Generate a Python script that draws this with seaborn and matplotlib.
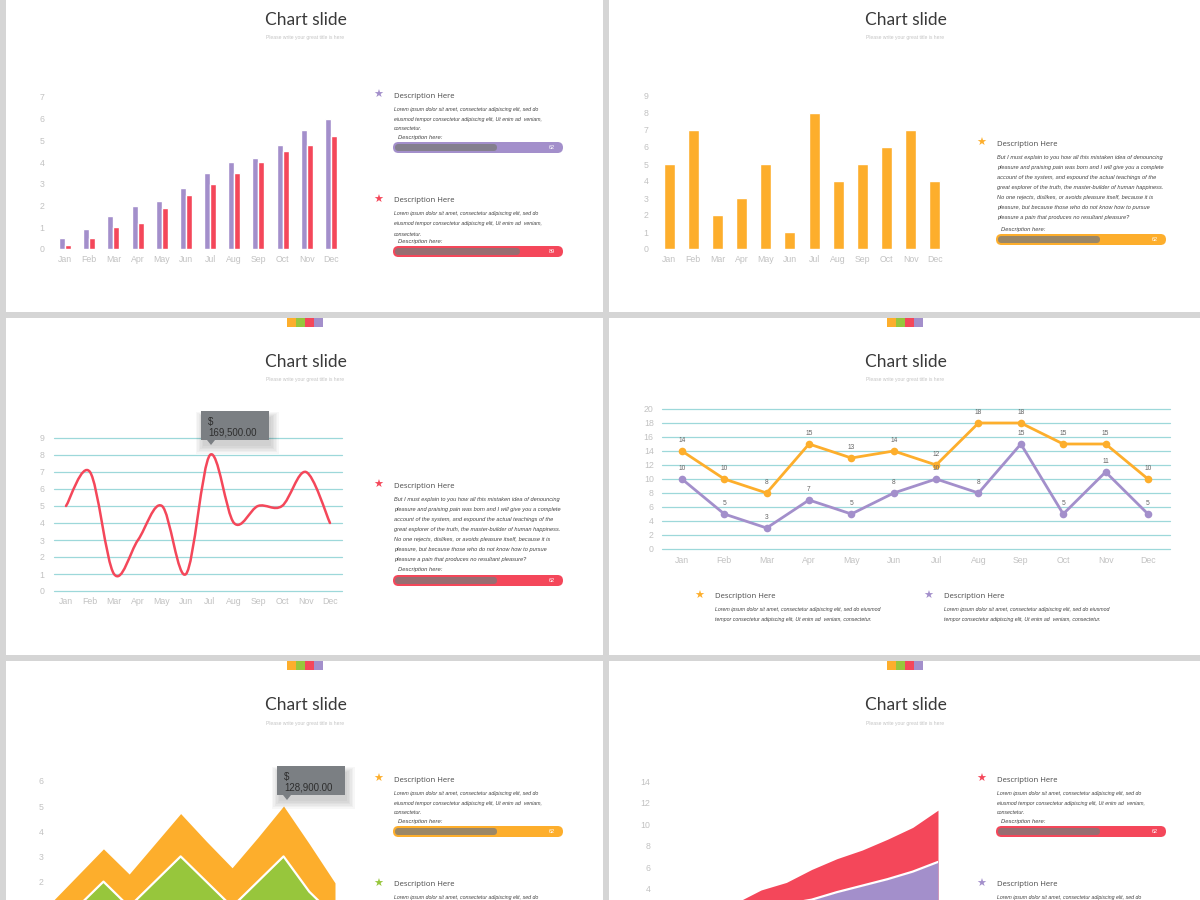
import numpy as np
import pandas as pd
import matplotlib
matplotlib.use("Agg")
import matplotlib.pyplot as plt
from matplotlib.patches import Rectangle, FancyBboxPatch, Polygon, PathPatch
from matplotlib.path import Path
import seaborn as sns

# ---------------- data ----------------
months = ["Jan", "Feb", "Mar", "Apr", "May", "Jun", "Jul", "Aug", "Sep", "Oct", "Nov", "Dec"]

bar_purple = [0.5, 0.9, 1.5, 2.0, 2.2, 2.8, 3.5, 4.0, 4.2, 4.8, 5.5, 6.0]
bar_red = [0.2, 0.5, 1.0, 1.2, 1.9, 2.5, 3.0, 3.5, 4.0, 4.5, 4.8, 5.2]
bar_orange = [5, 7, 2, 3, 5, 1, 8, 4, 5, 6, 7, 4]
curve_red = [5, 7, 1, 3, 5, 1, 8, 4, 5, 5, 7, 4]
line_orange = [14, 10, 8, 15, 13, 14, 12, 18, 18, 15, 15, 10]
line_purple = [10, 5, 3, 7, 5, 8, 10, 8, 15, 5, 11, 5]
area_orange = [1.2, 2.25, 3.3, 2.3, 3.5, 4.7, 3.6, 2.55, 3.75, 5.0, 3.5, 1.95]
area_green = [0.5, 1.0, 2.0, 1.0, 2.0, 3.0, 2.0, 1.0, 2.0, 3.0, 1.6, 0.6]
area_red = [0.8, 1.4, 2.0, 2.7, 3.9, 4.6, 5.8, 6.8, 7.6, 8.6, 9.7, 11.3]
area_purple = [0.4, 0.8, 1.2, 1.7, 2.2, 2.6, 3.0, 3.7, 4.3, 4.9, 5.6, 6.5]

progress_labels = ["62", "89"]
progress_fill = [0.60, 0.735]
tooltip_values = ["169,500.00", "128,900.00"]

title_text = "Chart slide"
subtitle_text = "Please write your great title is here"
desc_title = "Description Here"
lorem_lines = ["Lorem ipsum dolor sit amet, consectetur adipiscing elit, sed do",
               "eiusmod tempor consectetur adipiscing elit, Ut enim ad  veniam,",
               "consectetur."]
para_lines = ["But I must explain to you how all this mistaken idea of denouncing",
              "pleasure and praising pain was born and I will give you a complete",
              "account of the system, and expound the actual teachings of the",
              "great explorer of the truth, the master-builder of human happiness.",
              "No one rejects, dislikes, or avoids pleasure itself, because it is",
              "pleasure, but because those who do not know how to pursue",
              "pleasure a pain that produces no resultant pleasure?"]
legend_lines = ["Lorem ipsum dolor sit amet, consectetur adipiscing elit, sed do eiusmod",
                "tempor consectetur adipiscing elit, Ut enim ad  veniam, consectetur."]

# ---------------- style ----------------
PURPLE = "#a38fcb"
RED = "#f4475a"
ORANGE = "#fdae2c"
GREEN = "#97c63c"
TEAL = "#9dd8da"
TICK = "#c2c2c2"
TIP = "#7b7f83"
DARK = "#4a4a4a"

sns.set_style("white")
plt.rcParams["font.family"] = ["Liberation Sans", "DejaVu Sans"]

W, H = 1200, 900
fig = plt.figure(figsize=(12, 9), dpi=100, facecolor="#d5d5d5")

bg = fig.add_axes([0, 0, 1, 1], zorder=0)
bg.set_xlim(0, W)
bg.set_ylim(H, 0)
bg.axis("off")
bg.set_facecolor("none")

fg = fig.add_axes([0, 0, 1, 1], zorder=5)
fg.set_xlim(0, W)
fg.set_ylim(H, 0)
fg.axis("off")
fg.patch.set_alpha(0)


def px_axes(x0, y0, x1, y1):
    ax = fig.add_axes([x0 / W, 1 - y1 / H, (x1 - x0) / W, (y1 - y0) / H], zorder=2)
    ax.set_facecolor("none")
    for s in ax.spines.values():
        s.set_visible(False)
    ax.tick_params(length=0, colors=TICK, labelsize=6.3)
    return ax


def slide(x0, y0, x1, y1, top, stripe=True):
    bg.add_patch(Rectangle((x0, y0), x1 - x0, y1 - y0, color="white", lw=0))
    cx = (x0 + x1) / 2
    if stripe:
        for k, c in enumerate([ORANGE, GREEN, RED, PURPLE]):
            bg.add_patch(Rectangle((cx - 18 + 9 * k, top), 9, 9, color=c, lw=0))
    bg.text(cx + 1, top + 44, title_text, ha="center", va="center", fontsize=12.5,
            color="#3a3a3a", family=["Lato", "DejaVu Sans"])
    bg.text(cx + 1, top + 62, subtitle_text, ha="center", va="center", fontsize=3.6, color="#c4c4c4")


def desc(xs, ys, color, lines, gap=8, bar=None, fs=3.8):
    bg.text(xs, ys, "\u2605", ha="center", va="center", fontsize=8, color=color, family="DejaVu Sans")
    bg.text(xs + 16, ys + 1, desc_title, ha="left", va="center", fontsize=5.6, color=DARK,
            family=["Open Sans", "DejaVu Sans"])
    ly = ys + 14
    for i, ln in enumerate(lines):
        ly = ys + 14 + 10 * i
        bg.text(xs + 16, ly, ln, ha="left", va="center", fontsize=fs, style="italic", color="#444444")
    if bar is not None:
        label, frac = bar
        lab_y = ly + gap
        bg.text(xs + 20, lab_y, "Description here:", ha="left", va="center", fontsize=4.2,
                style="italic", color="#444444")
        bx0, bx1, by = xs + 15, xs + 185, lab_y + 5
        bg.add_patch(FancyBboxPatch((bx0, by), bx1 - bx0, 11, boxstyle="round,pad=0,rounding_size=5.5",
                                    color=color, lw=0))
        bg.add_patch(FancyBboxPatch((bx0 + 2, by + 2), (bx1 - bx0) * frac, 7,
                                    boxstyle="round,pad=0,rounding_size=3.5",
                                    color="#7a7a7a", alpha=0.75, lw=0))
        bg.text(bx1 - 11, by + 5.5, label, ha="center", va="center", fontsize=4, color="white")


def tooltip(x0, y0, value):
    # soft shadow mostly below the box
    for k in range(6):
        fg.add_patch(Rectangle((x0 - k * 1.5 + 2, y0 + 6 - k), 68 + k * 3, 29 + k * 2.5,
                               color="black", alpha=0.03, lw=0))
    fg.add_patch(Rectangle((x0, y0), 68, 29, color=TIP, lw=0))
    fg.add_patch(Polygon([[x0 + 6, y0 + 29], [x0 + 14, y0 + 29], [x0 + 10, y0 + 34]], color=TIP, lw=0))
    fg.text(x0 + 7, y0 + 11, "$", ha="left", va="center", fontsize=7, color="#2e2e2e")
    fg.text(x0 + 7, y0 + 21.5, value, ha="left", va="center", fontsize=7, color="#2e2e2e")


def smooth_path(xs, ys):
    pts = np.column_stack([xs, ys]).astype(float)
    verts = [pts[0]]
    codes = [Path.MOVETO]
    for i in range(len(pts) - 1):
        p0 = pts[i - 1] if i > 0 else pts[i]
        p1, p2 = pts[i], pts[i + 1]
        p3 = pts[i + 2] if i + 2 < len(pts) else pts[i + 1]
        verts += [p1 + (p2 - p0) / 6, p2 - (p3 - p1) / 6, p2]
        codes += [Path.CURVE4] * 3
    return Path(verts, codes)


# ---------------- slide backgrounds ----------------
slide(6, -5, 603, 312, -24, stripe=False)
slide(609, -5, 1200, 312, -24, stripe=False)
slide(6, 318, 603, 655, 318)
slide(609, 318, 1200, 655, 318)
slide(6, 661, 603, 905, 661)
slide(609, 661, 1200, 905, 661)

xi = np.arange(len(months))

# ---- 1. grouped bars ----
ax1 = px_axes(53, 97, 343, 249)
df1 = pd.DataFrame({"month": months * 2, "value": bar_purple + bar_red,
                    "series": ["A"] * 12 + ["B"] * 12})
sns.barplot(data=df1, x="month", y="value", hue="series", palette=[PURPLE, RED],
            width=0.5, gap=0, saturation=1, legend=False, ax=ax1)
ax1.set_ylim(0, 7)
ax1.set_yticks(range(8))
ax1.set_xlim(-0.5, 11.5)
ax1.tick_params(axis="y", pad=6)
ax1.tick_params(axis="x", pad=4)
ax1.set_xlabel("")
ax1.set_ylabel("")

desc(378, 95, PURPLE, lorem_lines, gap=8, bar=(progress_labels[0], progress_fill[0]))
desc(378, 200, RED, lorem_lines, gap=7, bar=(progress_labels[1], progress_fill[1]))

# ---- 2. single bars ----
ax2 = px_axes(657, 96, 947, 249)
sns.barplot(x=months, y=bar_orange, color=ORANGE, width=0.45, saturation=1, ax=ax2)
ax2.set_ylim(0, 9)
ax2.set_yticks(range(10))
ax2.set_xlim(-0.5, 11.5)
ax2.tick_params(axis="y", pad=6)
ax2.tick_params(axis="x", pad=4)

desc(981, 143, ORANGE, para_lines, gap=12, bar=(progress_labels[0], progress_fill[0]), fs=4.1)

# ---- 3. smooth line ----
ax3 = px_axes(54, 438, 342, 591)
ax3.set_xlim(-0.5, 11.5)
ax3.set_ylim(0, 9)
ax3.set_yticks(range(10))
ax3.set_xticks(xi)
ax3.set_xticklabels(months)
ax3.yaxis.grid(True, color=TEAL, lw=0.9)
ax3.xaxis.grid(False)
for gl in ax3.get_ygridlines():
    gl.set_clip_on(False)
ax3.add_patch(PathPatch(smooth_path(xi, curve_red), fill=False, edgecolor=RED, lw=1.8,
                        capstyle="round", joinstyle="round"))
ax3.tick_params(axis="y", pad=7)
ax3.tick_params(axis="x", pad=4)
tooltip(201, 411, tooltip_values[0])

desc(378, 485, RED, para_lines, gap=11, bar=(progress_labels[0], progress_fill[0]), fs=4.1)

# ---- 4. two lines with markers ----
ax4 = px_axes(662, 409, 1170, 549)
df4 = pd.DataFrame({"idx": np.concatenate([xi, xi]), "value": line_orange + line_purple,
                    "series": ["O"] * 12 + ["P"] * 12})
sns.lineplot(data=df4, x="idx", y="value", hue="series", palette=[ORANGE, PURPLE],
             marker="o", markersize=5.5, markeredgewidth=0, linewidth=2, legend=False, ax=ax4)
for vals in (line_orange, line_purple):
    for i, v in enumerate(vals):
        ax4.annotate(str(v), (i, v), xytext=(0, 7.5), textcoords="offset points",
                     ha="center", va="center", fontsize=4.8, color="#666666")
ax4.set_xlim(-0.47, 11.52)
ax4.set_ylim(0, 20)
ax4.set_yticks(range(0, 21, 2))
ax4.set_xticks(xi)
ax4.set_xticklabels(months)
ax4.yaxis.grid(True, color=TEAL, lw=0.9)
ax4.xaxis.grid(False)
ax4.set_axisbelow(True)
for gl in ax4.get_ygridlines():
    gl.set_clip_on(False)
ax4.set_xlabel("")
ax4.set_ylabel("")
ax4.tick_params(axis="y", pad=6)
ax4.tick_params(axis="x", pad=5)

desc(699, 596, ORANGE, legend_lines)
desc(928, 596, PURPLE, legend_lines)

# ---- 5. area (orange / green) ----
ax5 = px_axes(52, 774, 335, 900)
ax5.fill_between(xi, 0, area_orange, color=ORANGE, lw=0)
ax5.fill_between(xi, 0, area_green, color=GREEN, lw=0)
ax5.plot(xi, area_green, color="white", lw=1.6)
ax5.set_xlim(0, 11)
ax5.set_ylim(1.27, 6.27)
ax5.set_yticks(range(2, 7))
ax5.set_xticks([])
ax5.tick_params(axis="y", pad=6)
tooltip(277, 766, tooltip_values[1])

desc(378, 779, ORANGE, lorem_lines, gap=8, bar=(progress_labels[0], progress_fill[0]))
desc(378, 884, GREEN, lorem_lines[:1])

# ---- 6. area (red / purple) ----
ax6 = px_axes(660, 774, 938, 900)
ax6.fill_between(xi, 0, area_red, color=RED, lw=0)
ax6.fill_between(xi, 0, area_purple, color=PURPLE, lw=0)
ax6.plot(xi, area_purple, color="white", lw=1.6)
ax6.set_xlim(0, 11)
ax6.set_ylim(2.97, 14.65)
ax6.set_yticks(range(4, 15, 2))
ax6.set_xticks([])
ax6.tick_params(axis="y", pad=7)

desc(981, 779, RED, lorem_lines, gap=8, bar=(progress_labels[0], progress_fill[0]))
desc(981, 884, PURPLE, lorem_lines[:1])

fig.savefig("out.png", dpi=100, facecolor=fig.get_facecolor())
